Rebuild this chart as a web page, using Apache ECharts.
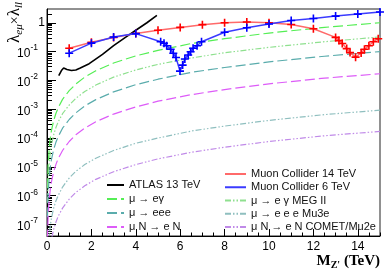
<!DOCTYPE html>
<html><head><meta charset="utf-8">
<script src="https://cdn.jsdelivr.net/npm/echarts@6/dist/echarts.min.js"></script>
<style>html,body{margin:0;padding:0;background:#fff}#c{width:392px;height:279px}</style>
</head><body><div id="c"></div>
<script>
// ---- data ----
const boundX = [0.02,0.05,0.1,0.15,0.2,0.3,0.4,0.5,0.7,1,1.3,1.7,2.2,3,4,5,6.5,8,10,12.5,15];
const muEgamma = [1.8e-6,1.1e-5,4.4e-5,1.0e-4,1.8e-4,4.0e-4,7.1e-4,1.1e-3,2.2e-3,4.4e-3,7.5e-3,1.3e-2,2.15e-2,4.0e-2,7.1e-2,0.11,0.19,0.28,0.44,0.69,1.0];
const megII = [5.7e-7,3.6e-6,1.4e-5,3.2e-5,5.7e-5,1.3e-4,2.3e-4,3.6e-4,7.0e-4,1.4e-3,2.4e-3,4.1e-3,6.9e-3,1.3e-2,2.3e-2,3.6e-2,6.0e-2,9.1e-2,0.14,0.22,0.32];
const muEee = [1.8e-7,1.1e-6,4.4e-6,1.0e-5,1.8e-5,4.0e-5,7.1e-5,1.1e-4,2.2e-4,4.4e-4,7.5e-4,1.3e-3,2.15e-3,4.0e-3,7.1e-3,1.1e-2,1.9e-2,2.8e-2,4.4e-2,6.9e-2,0.10];
const mu3e = [1.6e-9,1.0e-8,4.1e-8,9.3e-8,1.65e-7,3.7e-7,6.6e-7,1.0e-6,2.0e-6,4.1e-6,7.0e-6,1.2e-5,2.0e-5,3.7e-5,6.6e-5,1.0e-4,1.75e-4,2.6e-4,4.1e-4,6.5e-4,9.3e-4];
const muNeN = [3.0e-8,1.9e-7,7.6e-7,1.7e-6,3.0e-6,6.8e-6,1.2e-5,1.9e-5,3.7e-5,7.6e-5,1.3e-4,2.2e-4,3.7e-4,6.8e-4,1.2e-3,1.9e-3,3.2e-3,4.8e-3,7.6e-3,1.2e-2,1.7e-2];
const cometMu2e = [3.0e-10,1.9e-9,7.6e-9,1.7e-8,3.0e-8,6.8e-8,1.2e-7,1.9e-7,3.7e-7,7.6e-7,1.3e-6,2.2e-6,3.7e-6,6.8e-6,1.2e-5,1.9e-5,3.2e-5,4.8e-5,7.6e-5,1.2e-4,1.7e-4];

const atlasX = [0.53,0.65,0.75,0.9,1.1,1.3,1.5,1.9,2.5,3,3.5,4,4.5,4.95];
const atlasY = [0.0146,0.022,0.027,0.024,0.022,0.023,0.027,0.038,0.08,0.16,0.3,0.55,1.0,1.8];

const mc14X = [1,2,3,4,5,6,7,8,9,10,11,12,13,13.15,13.3,13.5,13.65,13.9,14.15,14.3,14.5,14.7,14.92];
const mc14Y = [0.13,0.21,0.31,0.42,0.55,0.69,0.86,1.0,1.06,1.0,0.87,0.62,0.31,0.24,0.19,0.127,0.092,0.064,0.09,0.12,0.16,0.22,0.28];

const mc6X = [1,2,3,4,5.12,5.27,5.39,5.57,5.69,5.81,5.99,6.11,6.21,6.36,6.47,6.58,6.76,6.96,8,9,10,11,12,13,14,15];
const mc6Y = [0.088,0.196,0.32,0.42,0.22,0.194,0.16,0.12,0.087,0.062,0.021,0.034,0.055,0.076,0.099,0.13,0.16,0.22,0.47,0.67,0.9,1.2,1.41,1.7,2.0,2.36];

const yMajorTicks = [1e-7,1e-6,1e-5,1e-4,1e-3,1e-2,1e-1,1];
const xTickLabels = ['0','2','4','6','8','10','12','14'];

const legendLeftNames = ['ATLAS 13 TeV','μ → eγ','μ → eee','μ N → e N'];
const legendRightNames = ['Muon Collider 14 TeV','Muon Collider 6 TeV','μ → e γ MEG II','μ → e e e Mu3e','μ N → e N COMET/Mu2e'];

// ---- helpers ----
const pairs = (xs, ys) => xs.map((x, i) => [x, ys[i]]);
const yMinorTicks = [];
yMajorTicks.concat([1e-8]).forEach(d => { for (let k = 2; k <= 9; k++) { const v = k * d; if (v > 4e-8 && v < 3) yMinorTicks.push(v); } });

const plus = 'path://M4,0H6V4H10V6H6V10H4V6H0V4H4Z';
const dashL = [10, 4];
const dashDD = [6, 2, 1.5, 2, 1.5, 2];

function bound(name, ys, color, dash) {
  return { name, type: 'line', data: pairs(boundX, ys), symbol: 'none', showSymbol: false,
    lineStyle: { color, width: 1.2, type: dash }, itemStyle: { color }, z: 2 };
}

const chart = echarts.init(document.getElementById('c'), null, { renderer: 'canvas' });
chart.setOption({
  animation: false,
  grid: { left: 47, top: 9, right: 12, bottom: 43, show: true, borderColor: '#222', borderWidth: 1 },
  xAxis: [
    { type: 'value', min: 0, max: 15, interval: 2,
      axisLine: { lineStyle: { color: '#000', width: 1 } },
      axisTick: { inside: true, length: 7, lineStyle: { color: '#000' } },
      axisLabel: { showMaxLabel: false, color: '#000', fontSize: 12, fontFamily: 'Liberation Sans', margin: 5,
        formatter: v => xTickLabels[Math.round(v / 2)] || '' },
      splitLine: { show: false } },
    { type: 'value', min: 0, max: 15, interval: 0.5, position: 'bottom',
      axisLine: { show: false },
      axisTick: { inside: true, length: 3.5, lineStyle: { color: '#000' } },
      axisLabel: { show: false }, splitLine: { show: false } }
  ],
  yAxis: [
    { type: 'log', logBase: 10, min: 4e-8, max: 3,
      axisLine: { show: true, lineStyle: { color: '#000', width: 1 } },
      axisTick: { inside: true, length: 9, customValues: yMajorTicks, lineStyle: { color: '#000' } },
      axisLabel: { customValues: yMajorTicks, margin: 2, color: '#000',
        formatter: v => { const e = Math.round(Math.log10(v)); return e === 0 ? '{o|1}' : '{b|10}{p|' + e + '}'; },
        rich: {
          o: { fontSize: 12, fontFamily: 'Liberation Sans', color: '#000', lineHeight: 16 },
          b: { fontSize: 12, fontFamily: 'Liberation Sans', color: '#000', lineHeight: 16, verticalAlign: 'bottom' },
          p: { fontSize: 8.5, fontFamily: 'Liberation Sans', color: '#000', lineHeight: 8, verticalAlign: 'top', padding: [0, 7, 0, 0] }
        } },
      splitLine: { show: false } },
    { type: 'log', logBase: 10, min: 4e-8, max: 3, position: 'left',
      axisLine: { show: false },
      axisTick: { inside: true, length: 5, customValues: yMinorTicks, lineStyle: { color: '#000' } },
      axisLabel: { show: false }, splitLine: { show: false } }
  ],
  legend: [
    { data: legendLeftNames, orient: 'vertical', left: 106, top: 179.5, padding: 0, itemWidth: 17, itemHeight: 10, itemGap: 3,
      itemStyle: { opacity: 0 }, textStyle: { fontSize: 11, fontFamily: 'Liberation Sans', color: '#111' }, selectedMode: false },
    { data: legendRightNames, orient: 'vertical', left: 224, top: 168.5, padding: 0, itemWidth: 21, itemHeight: 10, itemGap: 2.25,
      itemStyle: { opacity: 0 }, textStyle: { fontSize: 11, fontFamily: 'Liberation Sans', color: '#111' }, selectedMode: false }
  ],
  graphic: [
    { type: 'text', x: 15, y: 2, rotation: Math.PI / 2,
      style: { text: '{l|λ}{s|eμ}{m|×}{l|λ}{s|ll}', align: 'right', verticalAlign: 'middle', fill: '#000',
        rich: {
          l: { fontSize: 17, fontFamily: 'Liberation Serif', lineHeight: 20 },
          m: { fontSize: 14, fontFamily: 'Liberation Serif', lineHeight: 20 },
          s: { fontSize: 11, fontFamily: 'Liberation Serif', fontStyle: 'italic', lineHeight: 11, verticalAlign: 'bottom' }
        } } },
    { type: 'text', x: 380, y: 270,
      style: { text: '{m|M}{s|Z\'}{m| (TeV)}', align: 'right', verticalAlign: 'bottom', fill: '#000',
        rich: {
          m: { fontSize: 15, fontWeight: 'bold', fontFamily: 'Liberation Serif', lineHeight: 18 },
          s: { fontSize: 10, fontWeight: 'bold', fontFamily: 'Liberation Serif', lineHeight: 10, verticalAlign: 'bottom' }
        } } }
  ],
  series: [
    bound('μ → eγ', muEgamma, '#55ee55', dashL),
    bound('μ → e γ MEG II', megII, '#8fe08f', dashDD),
    bound('μ → eee', muEee, '#5aacac', dashL),
    bound('μ → e e e Mu3e', mu3e, '#8fbfbf', dashDD),
    bound('μ N → e N', muNeN, '#dd5cf8', dashL),
    bound('μ N → e N COMET/Mu2e', cometMu2e, '#c08ae8', dashDD),
    { name: 'ATLAS 13 TeV', type: 'line', data: pairs(atlasX, atlasY), symbol: 'none', showSymbol: false,
      lineStyle: { color: '#000', width: 1.6 }, itemStyle: { color: '#000' }, z: 4 },
    { name: 'Muon Collider 14 TeV', type: 'line', data: pairs(mc14X, mc14Y), symbol: plus, symbolSize: 8, showSymbol: true,
      lineStyle: { color: '#ff6a6a', width: 1.5 }, itemStyle: { color: '#ff0000' }, z: 5 },
    { name: 'Muon Collider 6 TeV', type: 'line', data: pairs(mc6X, mc6Y), symbol: plus, symbolSize: 8, showSymbol: true,
      lineStyle: { color: '#3b3bff', width: 1.5 }, itemStyle: { color: '#0000ff' }, z: 6 }
  ]
});
</script></body></html>
